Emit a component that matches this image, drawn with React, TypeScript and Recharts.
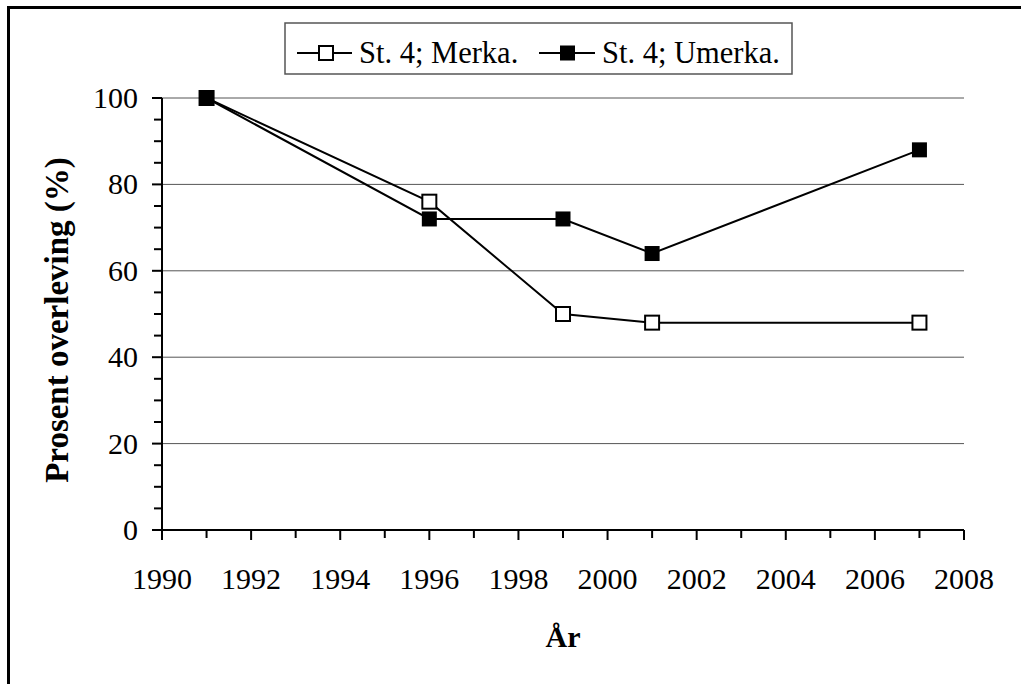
import React from "react";
import { LineChart, Line, XAxis, YAxis, ReferenceLine, Label } from "recharts";

const years = [1991, 1996, 1999, 2001, 2007];
const merka = [100, 76, 50, 48, 48];
const umerka = [100, 72, 72, 64, 88];

const xTicks = [1990, 1991, 1992, 1993, 1994, 1995, 1996, 1997, 1998, 1999, 2000, 2001, 2002, 2003, 2004, 2005, 2006, 2007, 2008];
const xLabelEvery = 2;
const yTicks = [0, 5, 10, 15, 20, 25, 30, 35, 40, 45, 50, 55, 60, 65, 70, 75, 80, 85, 90, 95, 100];
const yGrid = [20, 40, 60, 80, 100];

const seriesNames = ["St. 4; Merka.", "St. 4; Umerka."];
const yTitle = "Prosent overleving (%)";
const xTitle = "År";

const FONT = "'Liberation Serif', 'Times New Roman', serif";

const data = years.map((year, i) => ({ year, merka: merka[i], umerka: umerka[i] }));

const XTick = (props: any) => {
    const { x, y, payload } = props;
    const major = (payload.value - xTicks[0]) % xLabelEvery === 0;
    return (
        <g>
            <line x1={x} x2={x} y1={y} y2={y + (major ? 10 : 8)} stroke="#000" strokeWidth={2} />
            {major && (
                <text x={x} y={y + 59} textAnchor="middle" fontSize={30} fontFamily={FONT} fill="#000">
                    {payload.value}
                </text>
            )}
        </g>
    );
};

const YTick = (props: any) => {
    const { x, y, payload } = props;
    const major = payload.value % 20 === 0;
    return (
        <g>
            <line x1={x - (major ? 10 : 8)} x2={x} y1={y} y2={y} stroke="#000" strokeWidth={2} />
            {major && (
                <text x={x - 24} y={y + 10} textAnchor="end" fontSize={30} fontFamily={FONT} fill="#000">
                    {payload.value}
                </text>
            )}
        </g>
    );
};

const OpenSquare = (props: any) => {
    const { cx, cy, index } = props;
    return <rect key={`o${index}`} x={cx - 7} y={cy - 7} width={14} height={14} fill="#fff" stroke="#000" strokeWidth={2} />;
};

const FilledSquare = (props: any) => {
    const { cx, cy, index } = props;
    return <rect key={`f${index}`} x={cx - 7.5} y={cy - 7.5} width={15} height={15} fill="#000" />;
};

function LegendBox() {
    return (
        <svg width={510} height={54} style={{ position: "absolute", left: 284, top: 22 }}>
            <rect x={1} y={1} width={507} height={51} fill="#fff" stroke="#555" strokeWidth={1.5} />
            <line x1={13} x2={68} y1={31} y2={31} stroke="#000" strokeWidth={2} />
            <rect x={35} y={24} width={14} height={14} fill="#fff" stroke="#000" strokeWidth={2} />
            <text x={75} y={41} fontSize={30.5} fontFamily={FONT} fill="#000">{seriesNames[0]}</text>
            <line x1={255} x2={311} y1={31} y2={31} stroke="#000" strokeWidth={2} />
            <rect x={276} y={23.5} width={15} height={15} fill="#000" />
            <text x={318} y={41} fontSize={30.5} fontFamily={FONT} fill="#000">{seriesNames[1]}</text>
        </svg>
    );
}

export default function App() {
    return (
        <div style={{ position: "absolute", left: 0, top: 0, width: 1021, height: 684, overflow: "hidden", background: "#fff" }}>
            <div
                style={{
                    position: "absolute",
                    left: 7,
                    top: 6,
                    width: 1030,
                    height: 700,
                    borderTop: "3px solid #000",
                    borderLeft: "3px solid #000",
                }}
            />
            <div style={{ position: "absolute", left: 0, top: 0 }}>
                <LineChart width={1021} height={684} data={data} margin={{ top: 98, right: 57, left: 102, bottom: 124 }}>
                    {yGrid.map((v) => (
                        <ReferenceLine key={v} y={v} stroke="#555" strokeWidth={1} />
                    ))}
                    <XAxis
                        dataKey="year"
                        type="number"
                        domain={[1990, 2008]}
                        ticks={xTicks}
                        interval={0}
                        height={30}
                        tickSize={0}
                        tickMargin={0}
                        tickLine={false}
                        axisLine={{ stroke: "#000", strokeWidth: 2 }}
                        tick={<XTick />}
                    >
                        <Label
                            content={(p: any) => {
                                const vb = p.viewBox;
                                return (
                                    <text x={vb.x + vb.width / 2} y={vb.y + 117} textAnchor="middle" fontSize={30} fontWeight="bold" fontFamily={FONT} fill="#000">
                                        {xTitle}
                                    </text>
                                );
                            }}
                        />
                    </XAxis>
                    <YAxis
                        type="number"
                        domain={[0, 100]}
                        ticks={yTicks}
                        interval={0}
                        width={60}
                        tickSize={0}
                        tickMargin={0}
                        tickLine={false}
                        axisLine={{ stroke: "#000", strokeWidth: 2 }}
                        tick={<YTick />}
                    >
                        <Label
                            content={(p: any) => {
                                const vb = p.viewBox;
                                const cx = 68;
                                const cy = vb.y + vb.height / 2 + 6;
                                return (
                                    <text x={cx} y={cy} transform={`rotate(-90 ${cx} ${cy})`} textAnchor="middle" fontSize={33} fontWeight="bold" fontFamily={FONT} fill="#000">
                                        {yTitle}
                                    </text>
                                );
                            }}
                        />
                    </YAxis>
                    <Line dataKey="merka" name={seriesNames[0]} stroke="#000" strokeWidth={2} dot={<OpenSquare />} isAnimationActive={false} />
                    <Line dataKey="umerka" name={seriesNames[1]} stroke="#000" strokeWidth={2} dot={<FilledSquare />} isAnimationActive={false} />
                </LineChart>
            </div>
            <LegendBox />
        </div>
    );
}
